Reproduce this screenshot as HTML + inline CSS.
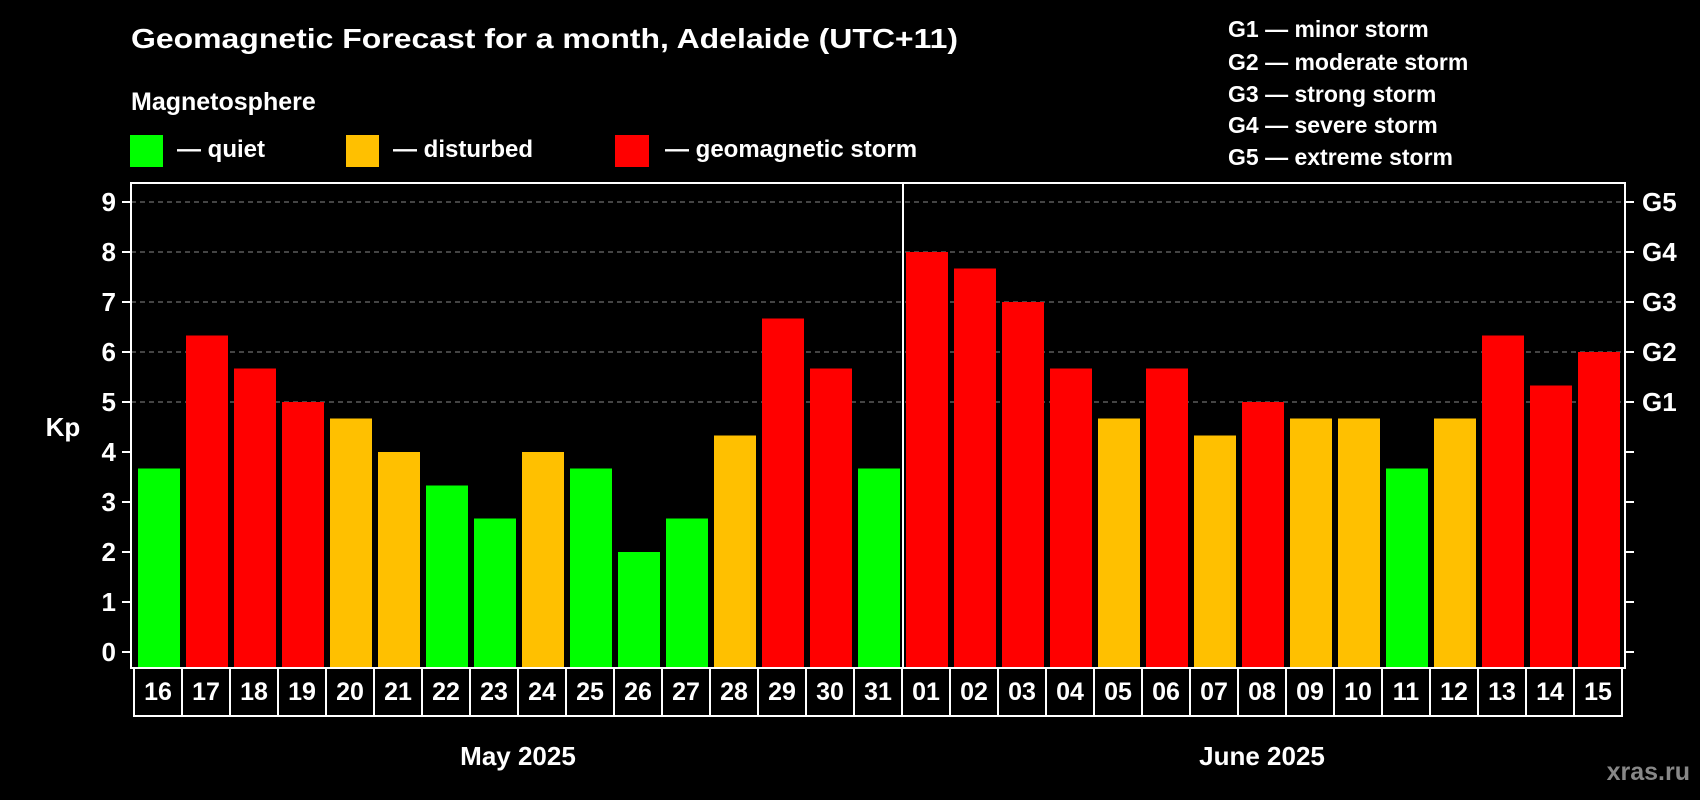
<!DOCTYPE html>
<html><head><meta charset="utf-8"><style>
html,body{margin:0;padding:0;background:#000;}
svg{display:block;font-family:"Liberation Sans",Arial,sans-serif;font-weight:bold;}
</style></head><body>
<svg id="chart" width="1700" height="800" viewBox="0 0 1700 800" xmlns="http://www.w3.org/2000/svg">
<rect width="1700" height="800" fill="#000"/>
<text x="131" y="48" font-size="28" fill="#fff" textLength="827" lengthAdjust="spacingAndGlyphs">Geomagnetic Forecast for a month, Adelaide (UTC+11)</text>
<text x="131" y="110" font-size="25" fill="#fff">Magnetosphere</text>
<g><rect x="130" y="135" width="33" height="32" fill="#00ff00"/><text x="177" y="157" font-size="24" fill="#fff">— quiet</text></g>
<g><rect x="346" y="135" width="33" height="32" fill="#ffc000"/><text x="393" y="157" font-size="24" fill="#fff">— disturbed</text></g>
<g><rect x="615" y="135" width="34" height="32" fill="#ff0000"/><text x="665" y="157" font-size="24" fill="#fff">— geomagnetic storm</text></g>
<g font-size="23" fill="#fff">
<text x="1228" y="37">G1 — minor storm</text>
<text x="1228" y="70">G2 — moderate storm</text>
<text x="1228" y="102">G3 — strong storm</text>
<text x="1228" y="133">G4 — severe storm</text>
<text x="1228" y="165">G5 — extreme storm</text>
</g>
<g id="plot"></g>
<text x="63" y="436" font-size="26" fill="#fff" text-anchor="middle">Kp</text>
<text x="518" y="765" font-size="26" fill="#fff" text-anchor="middle">May 2025</text>
<text x="1262" y="765" font-size="26" fill="#fff" text-anchor="middle">June 2025</text>
<text x="1690" y="780" font-size="25" fill="#888" text-anchor="end">xras.ru</text>
</svg>
<script>
const days = ["16","17","18","19","20","21","22","23","24","25","26","27","28","29","30","31","01","02","03","04","05","06","07","08","09","10","11","12","13","14","15"];
const kpValues = [3.67,6.33,5.67,5,4.67,4,3.33,2.67,4,3.67,2,2.67,4.33,6.67,5.67,3.67,8,7.67,7,5.67,4.67,5.67,4.33,5,4.67,4.67,3.67,4.67,6.33,5.33,6];
const yTicks = [0,1,2,3,4,5,6,7,8,9];
const gLabels = ["G1","G2","G3","G4","G5"];
const gLevels = [5,6,7,8,9];

const NS="http://www.w3.org/2000/svg";
const plot=document.getElementById('plot');
const L=131,R=1625,T=183,B=668,y0=652,unit=50,barX0=138,step=48,barW=42;
function y(v){return y0-v*unit;}
function x(i){return barX0+i*step;}
function mk(tag,attrs){const e=document.createElementNS(NS,tag);for(const k in attrs)e.setAttribute(k,attrs[k]);plot.appendChild(e);return e;}
function color(v){return v<4?"#00ff00":(v<5?"#ffc000":"#ff0000");}

gLevels.forEach(v=>{
  const g=mk('line',{x1:L,x2:R,y1:y(v),y2:y(v),stroke:"#888","stroke-width":1,"stroke-dasharray":"5,4"});
  
  
});
kpValues.forEach((v,i)=>{
  const r=mk('rect',{x:x(i),y:y(v),width:barW,height:B-y(v),fill:color(v)});
  
  
});
const frame=mk('rect',{x:L,y:T,width:R-L,height:B-T,fill:"none",stroke:"#fff","stroke-width":2});


const div=mk('line',{x1:x(16)-3,x2:x(16)-3,y1:T,y2:B,stroke:"#fff","stroke-width":2});


yTicks.forEach(v=>{
  const t=mk('line',{x1:L-9,x2:L,y1:y(v),y2:y(v),stroke:"#fff","stroke-width":2});
  
  
  const t2=mk('line',{x1:R,x2:R+9,y1:y(v),y2:y(v),stroke:"#fff","stroke-width":2});
  
  
  const lb=mk('text',{x:116,y:y(v)+9,"font-size":26,fill:"#fff","text-anchor":"end"});
  lb.textContent=yTicks[v];
  
  
});
gLabels.forEach((g,i)=>{
  const lb=mk('text',{x:1642,y:y(gLevels[i])+9,"font-size":26,fill:"#fff"});
  lb.textContent=g;
  
  
});
days.forEach((d,i)=>{
  const bx=mk('rect',{x:x(i)-4,y:B,width:step,height:48,fill:"#000",stroke:"#fff","stroke-width":2});
  
  
  const t=mk('text',{x:x(i)-4+step/2,y:700,"font-size":25,fill:"#fff","text-anchor":"middle"});
  t.textContent=d;
  
  
});
</script>
</body></html>
